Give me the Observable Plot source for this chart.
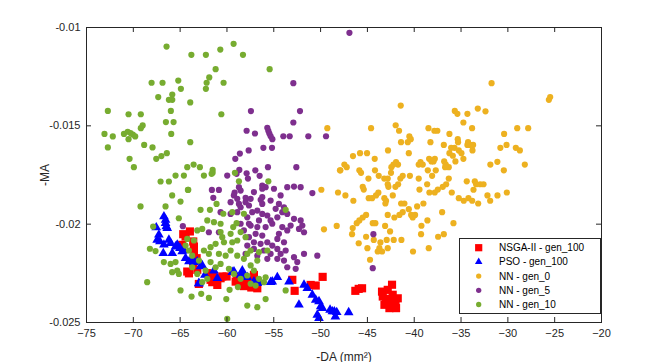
<!DOCTYPE html>
<html><head><meta charset="utf-8">
<script src="https://cdn.jsdelivr.net/npm/d3@7"></script>
<script src="https://cdn.jsdelivr.net/npm/@observablehq/plot@0.6"></script>
<style>
body{margin:0;background:#fff;}
#wrap{position:relative;width:664px;height:362px;}
</style></head><body><div id="wrap"></div>
<script>
const xTicks = [-75,-70,-65,-60,-55,-50,-45,-40,-35,-30,-25,-20];
const yTicks = [-0.025,-0.02,-0.015,-0.01];
const seriesNames = ["NSGA-II - gen_100","PSO - gen_100","NN - gen_0","NN - gen_5","NN - gen_10"];
const seriesColors = ["#ff0000","#0000ff","#EDB120","#7E2F8E","#77AC30"];

const nsga = [[-64.67,-0.02051],[-63.96,-0.02037],[-63.60,-0.02088],[-63.53,-0.02114],[-63.53,-0.02139],[-63.24,-0.02173],[-63.60,-0.02212],[-64.06,-0.0225],[-63.17,-0.02232],[-61.75,-0.02283],[-61.03,-0.02309],[-60.68,-0.02275],[-58.9,-0.02275],[-57.83,-0.023],[-57.4,-0.02322],[-56.76,-0.02326],[-57.12,-0.02258],[-53.02,-0.02283],[-52.77,-0.02339],[-51.06,-0.02309],[-50.52,-0.02312],[-49.78,-0.02268],[-64.24,-0.02241],[-64.78,-0.02105],[-64.42,-0.02063],[-62.1,-0.02249],[-59.07,-0.02292],[-56.94,-0.02292],[-58.19,-0.02315],[-61.47,-0.02266],[-60.5,-0.02266],[-60.04,-0.02266],[-58.36,-0.02304],[-63.0,-0.02304],[-61.57,-0.02295],
[-45.93,-0.02329],[-45.57,-0.02326],[-46.29,-0.02339],[-43.44,-0.02343],[-42.83,-0.02334],[-42.3,-0.02359],[-41.76,-0.02377],[-43.36,-0.02368],[-43.01,-0.02393],[-42.3,-0.02402],[-42.65,-0.02427],[-41.94,-0.02427],[-43.18,-0.0241],[-42.37,-0.02308],[-42.6,-0.0238],[-42.0,-0.024]];

const pso = [[-67.55,-0.02017],[-67.45,-0.0208],[-67.16,-0.02088],[-67.27,-0.02054],[-66.73,-0.01961],[-66.56,-0.01978],[-66.56,-0.01995],[-66.48,-0.02012],[-66.38,-0.0202],[-66.2,-0.0208],[-66.02,-0.02097],[-66.73,-0.02105],[-66.8,-0.02148],[-65.84,-0.02148],[-65.49,-0.02114],[-65.31,-0.02105],[-65.02,-0.02122],[-64.78,-0.02139],[-64.42,-0.02173],[-64.06,-0.0219],[-63.71,-0.02173],[-63.17,-0.0219],[-62.82,-0.02215],[-63.0,-0.023],[-62.35,-0.02258],[-61.03,-0.02275],[-59.25,-0.02241],[-58.54,-0.02258],[-58.19,-0.02266],[-57.12,-0.02292],[-56.76,-0.023],[-55.16,-0.02292],[-53.37,-0.02292],[-52.31,-0.0241],[-51.77,-0.02309],[-51.42,-0.02326],[-50.88,-0.0236],[-50.52,-0.02385],[-50.17,-0.02393],[-49.99,-0.02419],[-49.81,-0.02427],[-50.35,-0.02461],[-50.17,-0.02478],[-48.99,-0.02436],[-48.74,-0.02444],[-48.53,-0.02444],[-48.28,-0.02448],[-48.42,-0.0247],[-47.0,-0.02449],
[-58.36,-0.02236],[-57.83,-0.0227],[-59.43,-0.02244],[-56.58,-0.02295],[-55.33,-0.02295],[-54.62,-0.0227],[-62.99,-0.02303],[-64.6,-0.02134],[-63.53,-0.02193],[-62.64,-0.0221],[-61.39,-0.02236]];

const gen0 = [[-31.74,-0.01283],[-25.62,-0.01368],[-25.48,-0.01354],[-41.44,-0.01397],[-35.67,-0.01424],[-35.39,-0.01439],[-34.32,-0.01439],[-33.21,-0.01412],[-32.39,-0.01426],[-44.61,-0.01512],[-41.98,-0.01497],[-41.62,-0.01525],[-38.48,-0.01512],[-37.85,-0.01525],[-37.53,-0.01525],[-34.75,-0.01483],[-33.82,-0.01512],[-29.0,-0.01512],[-27.83,-0.01512],[-30.4,-0.01541],[-40.52,-0.01554],[-40.37,-0.01568],[-40.69,-0.01583],[-41.41,-0.01583],[-38.27,-0.01583],[-36.24,-0.01541],[-35.35,-0.01568],[-35.32,-0.01583],[-36.84,-0.01597],[-36.06,-0.01612],[-35.7,-0.01612],[-35.24,-0.01625],[-34.96,-0.01639],[-34.25,-0.01583],[-34.03,-0.01597],[-33.71,-0.01597],[-33.78,-0.01625],[-34.32,-0.01597],[-36.24,-0.01639],[-35.88,-0.01652],[-35.6,-0.01681],[-34.75,-0.01668],[-30.8,-0.01612],[-30.14,-0.01597],[-29.15,-0.01612],[-28.72,-0.01625],[-28.19,-0.01697],[-31.12,-0.01683],[-31.87,-0.01697],[-30.43,-0.01726],[-42.8,-0.01625],[-40.58,-0.01639],[-44.22,-0.01668],[-45.04,-0.01639],[-45.79,-0.01639],[-46.54,-0.01654],[-47.46,-0.01697],[-47.21,-0.0171],[-47.89,-0.01726],[-45.86,-0.01726],[-45.68,-0.01739],[-44.19,-0.01726],[-42.44,-0.0171],[-42.22,-0.01697],[-41.94,-0.01685],[-41.73,-0.01697],[-42.48,-0.01739],[-43.79,-0.01754],[-39.52,-0.01697],[-39.33,-0.01685],[-39.09,-0.01697],[-38.55,-0.01726],[-38.41,-0.01668],[-38.16,-0.01681],[-37.8,-0.01668],[-37.94,-0.01681],[-37.7,-0.01726],[-40.46,-0.01754],[-41.23,-0.01754],[-41.48,-0.01768],[-39.52,-0.01768],[-38.09,-0.01754],[-43.2,-0.01768],[-42.83,-0.01768],[-44.89,-0.01768],[-36.8,-0.01681],[-36.63,-0.01697],[-36.31,-0.0171],[-36.7,-0.0171],[-36.31,-0.01768],[-34.39,-0.01782],[-33.53,-0.01782],
[-49.28,-0.01512],[-47.93,-0.01726],[-49.92,-0.01825],[-48.14,-0.01839],[-49.64,-0.02026],
[-47.35,-0.01854],[-46.5,-0.01881],[-45.5,-0.0181],[-45.39,-0.01824],[-44.86,-0.01868],[-44.5,-0.01868],[-44.08,-0.01854],[-43.83,-0.0184],[-43.19,-0.01868],[-43.01,-0.01881],[-43.08,-0.01895],[-42.29,-0.01854],[-42.76,-0.0181],[-42.83,-0.01797],[-42.01,-0.0181],[-41.72,-0.01797],[-41.4,-0.01895],[-41.05,-0.01895],[-41.23,-0.01939],[-40.58,-0.01924],[-40.16,-0.01966],[-39.91,-0.01953],[-40.33,-0.01953],[-39.69,-0.0191],[-39.02,-0.01895],[-39.44,-0.01824],[-38.62,-0.01797],[-38.38,-0.01839],[-37.81,-0.01839],[-37.48,-0.01824],[-36.95,-0.0181],[-36.59,-0.01797],[-37.02,-0.01939],[-38.59,-0.01981],[-39.23,-0.02008],[-35.81,-0.01995],[-35.99,-0.01839],[-35.24,-0.01868],[-34.71,-0.01881],[-34.21,-0.01868],[-33.81,-0.01881],[-33.17,-0.01895],[-33.67,-0.01825],[-33.39,-0.01797],[-32.96,-0.01797],[-32.6,-0.01797],[-32.18,-0.01854],[-31.89,-0.01881],[-31.11,-0.01854],[-30.11,-0.01839],[-48.28,-0.02009],[-46.57,-0.0202],[-46.64,-0.02051],[-45.93,-0.02097],[-45.14,-0.02064],[-45.0,-0.02122],[-44.32,-0.0208],[-43.61,-0.02093],[-43.9,-0.02139],[-43.43,-0.02139],[-43.72,-0.02122],[-42.94,-0.0208],[-42.83,-0.02122],[-42.19,-0.0208],[-41.37,-0.0208],[-42.58,-0.02037],[-43.11,-0.02009],[-46.14,-0.01995],[-45.86,-0.01981],[-45.5,-0.01966],[-45.14,-0.01953],[-44.43,-0.01995],[-44.15,-0.01995],[-42.83,-0.01953],[-42.12,-0.01966],[-41.58,-0.01953],[-44.72,-0.02181],[-40.13,-0.02139],[-38.45,-0.02122],[-37.45,-0.02064],[-36.84,-0.02051],[-39.27,-0.02051]];

const gen5 = [[-46.92,-0.01027],[-52.91,-0.01283],[-57.44,-0.01425],[-52.2,-0.01425],[-52.91,-0.01483],[-57.9,-0.01525],[-57.01,-0.01539],[-55.69,-0.0151],[-55.58,-0.01525],[-55.47,-0.01539],[-55.33,-0.01553],[-55.15,-0.01568],[-53.98,-0.01553],[-53.3,-0.01553],[-51.31,-0.01553],[-49.42,-0.01553],[-57.68,-0.01625],[-56.11,-0.01612],[-55.19,-0.01612],[-58.62,-0.01641],[-59.11,-0.01668],[-55.62,-0.0171],[-52.59,-0.0171],[-58.68,-0.01724],[-56.97,-0.01726],
[-58.72,-0.01812],[-57.76,-0.01768],[-56.51,-0.01754],[-59.18,-0.01839],[-61.46,-0.01866],[-58.01,-0.01866],[-56.4,-0.01876],
[-64.71,-0.0201],[-61.93,-0.02041],[-60.86,-0.02041],[-61.61,-0.01826],[-60.86,-0.01826],[-59.97,-0.01753],[-58.97,-0.01744],[-57.9,-0.01741],[-56.23,-0.01804],[-55.87,-0.01812],[-54.98,-0.0182],[-53.56,-0.01812],[-52.84,-0.01809],[-52.13,-0.01812],[-50.88,-0.01842],[-58.72,-0.01897],[-58.54,-0.01914],[-58.01,-0.01888],[-57.65,-0.01905],[-58.9,-0.01939],[-60.68,-0.01939],[-59.61,-0.01948],[-57.83,-0.01965],[-56.76,-0.01931],[-56.58,-0.01981],[-55.69,-0.01956],[-55.34,-0.01981],[-54.62,-0.01965],[-54.09,-0.01939],[-53.91,-0.01914],[-56.23,-0.01863],[-55.34,-0.0188],[-54.45,-0.01897],[-54.27,-0.01854],[-56.23,-0.0182],[-57.12,-0.01837],[-58.54,-0.01998],[-57.47,-0.02007],[-56.76,-0.02015],[-55.87,-0.02015],[-55.16,-0.01998],[-58.19,-0.02032],[-57.65,-0.02066],[-56.94,-0.02049],[-56.23,-0.02058],[-57.12,-0.02092],[-56.41,-0.021],[-55.69,-0.02092],[-57.83,-0.02109],[-57.12,-0.02126],[-56.05,-0.02134],[-55.34,-0.02151],[-58.01,-0.02151],[-56.76,-0.0216],[-55.69,-0.02176],[-54.27,-0.02151],[-54.62,-0.02176],[-53.91,-0.02185],[-53.56,-0.02219],[-52.66,-0.02227],[-52.49,-0.02193],[-52.84,-0.02168],[-51.77,-0.02151],[-50.35,-0.0216],[-52.13,-0.01981],[-51.95,-0.02007],[-52.31,-0.02024],[-51.77,-0.02041],[-53.56,-0.02032],[-53.2,-0.02007],[-54.09,-0.02015],[-54.45,-0.02049],[-54.62,-0.02075],[-53.91,-0.02092],[-55.16,-0.02109],[-54.62,-0.02126],[-53.73,-0.02134],
[-58.54,-0.01829],[-57.47,-0.01871],[-59.26,-0.01854],[-59.61,-0.01888],[-54.8,-0.01922],[-53.56,-0.01948],[-52.84,-0.01973],[-56.23,-0.01897],[-57.3,-0.01939],[-57.65,-0.01998],[-56.23,-0.01948],[-58.9,-0.01871],
[-44.36,-0.02051],[-44.43,-0.02224]];

const gen10 = [[-66.45,-0.01097],[-63.8,-0.01139],[-62.25,-0.01139],[-60.71,-0.01112],[-59.29,-0.01083],[-58.29,-0.01139],[-61.21,-0.01212],[-55.44,-0.01212],[-68.05,-0.01281],[-66.88,-0.01281],[-65.2,-0.0127],[-64.92,-0.01312],[-67.34,-0.01354],[-61.89,-0.01254],[-62.17,-0.01281],[-62.25,-0.01312],[-60.36,-0.01281],[-66.2,-0.01368],[-65.84,-0.01341],[-65.84,-0.01368],[-63.92,-0.01381],[-65.99,-0.01424],[-66.52,-0.01481],[-65.7,-0.01481],[-65.95,-0.01541],[-60.6,-0.01441],[-72.72,-0.01424],[-70.51,-0.01441],[-69.2,-0.01441],[-73.08,-0.01541],[-72.19,-0.01554],[-72.72,-0.0161],[-71.0,-0.01541],[-70.6,-0.0153],[-70.3,-0.01537],[-70.05,-0.01544],[-69.8,-0.01554],[-70.51,-0.01568],[-69.2,-0.01512],[-69.0,-0.01498],[-68.84,-0.01597],[-67.95,-0.0161],[-70.4,-0.01668],[-69.94,-0.0171],[-67.55,-0.01668],[-67.0,-0.01654],[-66.42,-0.01639],[-63.92,-0.01583],[-64.24,-0.0171],[-63.56,-0.01697],[-62.89,-0.0171],[-61.53,-0.01724],[-61.53,-0.01739],[-59.15,-0.01739],[-58.72,-0.01782],[-55.58,-0.01782],[-64.13,-0.01825],
[-69.23,-0.0191],[-67.88,-0.02012],[-68.23,-0.02125],[-67.63,-0.02137],[-68.52,-0.02295],[-66.56,-0.0191],[-65.14,-0.0197],[-64.96,-0.01885],[-65.85,-0.01854],[-67.09,-0.01783],[-66.2,-0.01783],[-65.49,-0.01753],[-64.6,-0.01753],[-64.17,-0.01826],[-62.82,-0.01927],[-61.82,-0.01927],[-62.46,-0.01753],[-61.64,-0.01744],[-61.11,-0.01897],[-62.1,-0.01981],[-61.39,-0.0199],[-60.68,-0.01998],[-60.39,-0.01947],[-59.43,-0.01939],[-59.33,-0.02015],[-58.54,-0.0204],[-58.01,-0.02066],[-58.97,-0.01995],[-58.19,-0.01947],[-58.9,-0.02083],[-60.68,-0.0204],[-60.5,-0.02066],[-59.61,-0.02049],[-59.43,-0.02092],[-60.32,-0.02092],[-61.21,-0.021],[-61.75,-0.02117],[-61.93,-0.02151],[-60.86,-0.02151],[-60.14,-0.0216],[-59.61,-0.02134],[-58.9,-0.0216],[-58.19,-0.02176],[-57.83,-0.02151],[-57.47,-0.02134],[-56.58,-0.02142],[-55.69,-0.02134],[-56.76,-0.02185],[-57.47,-0.0221],[-57.12,-0.02236],[-57.83,-0.02261],[-58.54,-0.02278],[-59.25,-0.02253],[-59.79,-0.02227],[-60.68,-0.02202],[-61.21,-0.02219],[-61.75,-0.02193],[-62.28,-0.02236],[-62.1,-0.02278],[-62.64,-0.02295],[-63.17,-0.02253],[-62.99,-0.02185],[-63.71,-0.0216],[-64.06,-0.02134],[-64.42,-0.02109],[-64.24,-0.02075],[-63.53,-0.02083],[-63.17,-0.02032],[-62.64,-0.02024],[-62.46,-0.02134],[-63.71,-0.02219],[-64.96,-0.02337],[-63.78,-0.02368],[-62.75,-0.02354],[-61.93,-0.02375],[-60.07,-0.02381],[-59.72,-0.02334],[-58.83,-0.0232],[-55.87,-0.02381],[-56.76,-0.02422],[-57.83,-0.02414],[-59.97,-0.02481],[-65.31,-0.02236],[-65.49,-0.02193],[-66.74,-0.02193],[-66.02,-0.02202],[-65.85,-0.02244],[-65.14,-0.02253],[-57.47,-0.02303],[-56.94,-0.02312],[-56.58,-0.02278],[-56.05,-0.02295],[-55.87,-0.0227],[-53.73,-0.02337],[-53.73,-0.01927]];

const width = 664, height = 362;
const mL = 86, mR = 63, mT = 27, mB = 40;
const innerW = width - mL - mR, innerH = height - mT - mB;
const axisColor = "#262626";
const font = "'Liberation Sans', Arial, sans-serif";

const toRows = (arr) => arr.map(([x, y]) => ({x, y}));

const chart = Plot.plot({
  width, height,
  marginLeft: mL, marginRight: mR, marginTop: mT, marginBottom: mB,
  style: {fontFamily: font, fontSize: "11px", color: axisColor, background: "white"},
  x: {domain: [-75, -20]},
  y: {domain: [-0.025, -0.01]},
  marks: [
    Plot.dot(toRows(nsga), {x: "x", y: "y", symbol: "square", r: 4.6, fill: seriesColors[0], stroke: "none"}),
    Plot.dot(toRows(pso), {x: "x", y: "y", symbol: "triangle", r: 3.6, fill: seriesColors[1], stroke: "none"}),
    Plot.dot(toRows(gen0), {x: "x", y: "y", r: 3.1, fill: seriesColors[2], stroke: "none"}),
    Plot.dot(toRows(gen5), {x: "x", y: "y", r: 3.1, fill: seriesColors[3], stroke: "none"}),
    Plot.dot(toRows(gen10), {x: "x", y: "y", r: 3.1, fill: seriesColors[4], stroke: "none"}),
    Plot.frame({stroke: axisColor, strokeWidth: 1}),
    Plot.tickX(xTicks, {x: d => d, stroke: axisColor, insetTop: innerH - 5}),
    Plot.tickX(xTicks, {x: d => d, stroke: axisColor, insetBottom: innerH - 5}),
    Plot.tickY(yTicks, {y: d => d, stroke: axisColor, insetRight: innerW - 5}),
    Plot.tickY(yTicks, {y: d => d, stroke: axisColor, insetLeft: innerW - 5}),
    Plot.axisX(xTicks, {tickSize: 0, tickPadding: 7, fontSize: 11, label: "-DA (mm²)", labelAnchor: "center", labelOffset: 38, labelArrow: "none"}),
    Plot.axisY(yTicks, {tickSize: 0, tickPadding: 6, fontSize: 11, tickFormat: d => String(d), label: "-MA", labelAnchor: "center", labelOffset: 46, labelArrow: "none"})
  ]
});

document.getElementById("wrap").appendChild(chart);

// axis label font sizes
d3.select(chart).selectAll("[aria-label='x-axis label'] text, [aria-label='y-axis label'] text").attr("font-size", 12);

// legend
const svg = d3.select(chart);
const lg = svg.append("g").attr("font-family", font).attr("font-size", 10).attr("text-anchor", "start");
lg.append("rect").attr("x", 459.5).attr("y", 238.5).attr("width", 141).attr("height", 75)
  .attr("fill", "white").attr("stroke", axisColor).attr("stroke-width", 1);
const symbols = [d3.symbolSquare, d3.symbolTriangle2, d3.symbolCircle, d3.symbolCircle, d3.symbolCircle];
const symSizes = [52, 40, 22, 22, 22];
seriesNames.forEach((name, i) => {
  const cy = 247.7 + i * 14.2;
  lg.append("path").attr("d", d3.symbol(symbols[i], symSizes[i])()).attr("transform", `translate(478.7,${cy})`).attr("fill", seriesColors[i]);
  lg.append("text").attr("x", 499).attr("y", cy).attr("dy", "0.35em").attr("text-anchor", "start").attr("fill", "#000").text(name);
});
</script>
</body></html>
